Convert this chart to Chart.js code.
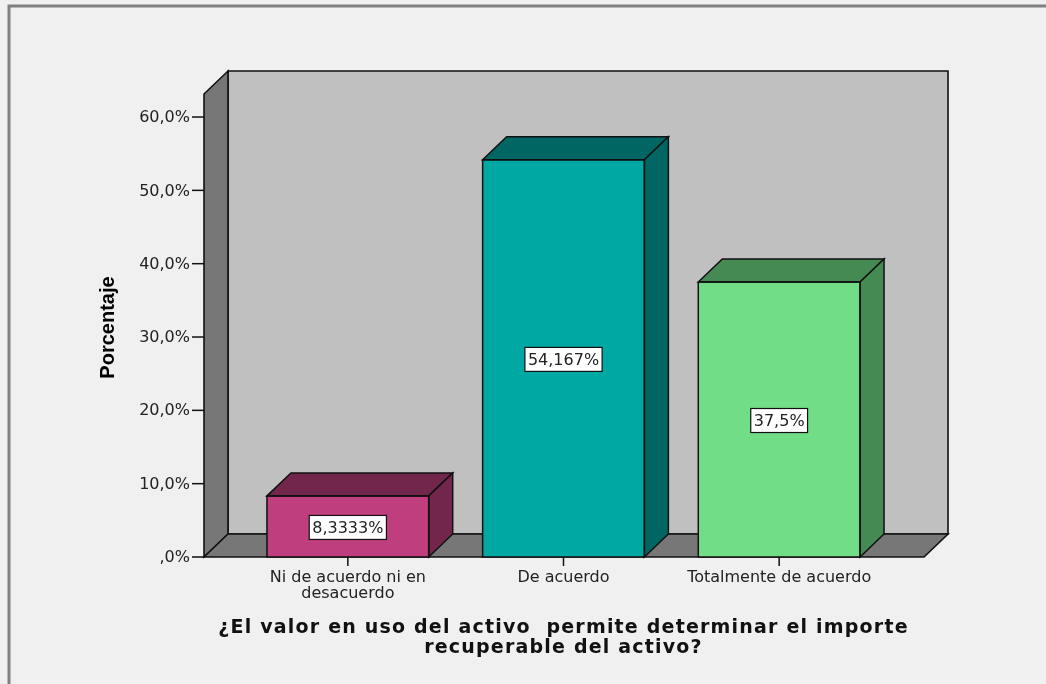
<!DOCTYPE html>
<html>
<head>
<meta charset="utf-8">
<script src="https://cdn.jsdelivr.net/npm/chart.js@4.4.1/dist/chart.umd.min.js"></script>
<style>
  html, body { margin: 0; padding: 0; background: #f0f0f0; }
  canvas { display: block; }
</style>
</head>
<body>
<canvas id="chart" width="1046" height="684"></canvas>
<script>
// data
const categories = [['Ni de acuerdo ni en', 'desacuerdo'], ['De acuerdo'], ['Totalmente de acuerdo']];
const percentages = [8.3333, 54.167, 37.5];
const valueLabels = ['8,3333%', '54,167%', '37,5%'];
const tickValues = [0, 10, 20, 30, 40, 50, 60];
const tickLabels = [',0%', '10,0%', '20,0%', '30,0%', '40,0%', '50,0%', '60,0%'];
const frontColors = ['#bf3f7e', '#00a8a3', '#72dd87'];
const sideColors = ['#73264b', '#006663', '#458a52'];

const yTitle = 'Porcentaje';
const xTitle = ['¿El valor en uso del activo  permite determinar el importe', 'recuperable del activo?'];

const DX = 24, DY = 23;

const box3d = {
    id: 'box3d',
    beforeDraw(chart) {
        const ctx = chart.ctx;
        ctx.save();
        ctx.fillStyle = '#f0f0f0';
        ctx.fillRect(0, 0, chart.width, chart.height);
        // outer frame (only top and left visible)
        ctx.strokeStyle = '#808080';
        ctx.lineWidth = 3;
        ctx.beginPath();
        ctx.moveTo(chart.width, 6);
        ctx.lineTo(9, 6);
        ctx.lineTo(9, chart.height);
        ctx.stroke();
        ctx.restore();
    },
    beforeDatasetsDraw(chart) {
        const ctx = chart.ctx;
        const area = chart.chartArea;
        const y = chart.scales.y;
        const x = chart.scales.x;
        const left = area.left - 36, right = area.right + 37;
        const bottom = y.getPixelForValue(0), top = y.getPixelForValue(y.max);

        ctx.save();
        ctx.lineJoin = 'miter';
        ctx.strokeStyle = '#111';
        ctx.lineWidth = 1.6;

        const poly = (pts, fill) => {
            ctx.beginPath();
            ctx.moveTo(pts[0][0], pts[0][1]);
            pts.slice(1).forEach(p => ctx.lineTo(p[0], p[1]));
            ctx.closePath();
            ctx.fillStyle = fill;
            ctx.fill();
            ctx.stroke();
        };

        // back wall
        poly([[left + DX, top - DY], [right + DX, top - DY], [right + DX, bottom - DY], [left + DX, bottom - DY]], '#c0c0c0');
        // left wall
        poly([[left, top], [left + DX, top - DY], [left + DX, bottom - DY], [left, bottom]], '#777777');
        // floor
        poly([[left, bottom], [left + DX, bottom - DY], [right + DX, bottom - DY], [right, bottom]], '#777777');

        // y ticks
        ctx.fillStyle = '#222';
        ctx.font = '16px "DejaVu Sans"';
        ctx.textAlign = 'right';
        ctx.textBaseline = 'middle';
        ctx.lineWidth = 1.5;
        tickValues.forEach((v, i) => {
            const py = y.getPixelForValue(v);
            ctx.beginPath();
            ctx.moveTo(left - 12, py);
            ctx.lineTo(left, py);
            ctx.stroke();
            ctx.fillText(tickLabels[i], left - 14, py + 1);
        });

        // x ticks and labels
        ctx.textAlign = 'center';
        categories.forEach((lines, i) => {
            const px = x.getPixelForValue(i);
            ctx.beginPath();
            ctx.moveTo(px, bottom);
            ctx.lineTo(px, bottom + 9);
            ctx.stroke();
            lines.forEach((t, j) => ctx.fillText(t, px, bottom + 21 + j * 16));
        });

        // y title
        ctx.save();
        ctx.translate(108, (top + bottom) / 2 + 2);
        ctx.rotate(-Math.PI / 2);
        ctx.font = 'bold 20px "Liberation Sans"';
        ctx.fillStyle = '#000';
        ctx.fillText(yTitle, 0, 0);
        ctx.restore();

        // x title
        ctx.font = 'bold 19px "DejaVu Sans"';
        ctx.fillStyle = '#111';
        ctx.letterSpacing = '1.2px';
        const cx = (area.left + area.right) / 2;
        xTitle.forEach((t, j) => ctx.fillText(t, cx, 628 + j * 20));
        ctx.restore();
    },
    afterDatasetsDraw(chart) {
        const ctx = chart.ctx;
        const meta = chart.getDatasetMeta(0);
        ctx.save();
        ctx.strokeStyle = '#111';
        ctx.lineWidth = 1.5;
        ctx.lineJoin = 'miter';
        meta.data.forEach((bar, i) => {
            const l = bar.x - bar.width / 2, r = bar.x + bar.width / 2;
            const t = bar.y, b = bar.base;
            ctx.fillStyle = sideColors[i];
            // top face
            ctx.beginPath();
            ctx.moveTo(l, t);
            ctx.lineTo(l + DX, t - DY);
            ctx.lineTo(r + DX, t - DY);
            ctx.lineTo(r, t);
            ctx.closePath();
            ctx.fill();
            ctx.stroke();
            // right face
            ctx.beginPath();
            ctx.moveTo(r, t);
            ctx.lineTo(r + DX, t - DY);
            ctx.lineTo(r + DX, b - DY);
            ctx.lineTo(r, b);
            ctx.closePath();
            ctx.fill();
            ctx.stroke();
            // front outline
            ctx.strokeRect(l, t, r - l, b - t);

            // value label box
            ctx.font = '16px "DejaVu Sans"';
            const w = ctx.measureText(valueLabels[i]).width + 6;
            const cy = (t + b) / 2 + 1;
            ctx.fillStyle = '#fff';
            ctx.fillRect(bar.x - w / 2, cy - 12, w, 24);
            ctx.lineWidth = 1.2;
            ctx.strokeRect(bar.x - w / 2, cy - 12, w, 24);
            ctx.lineWidth = 1.5;
            ctx.fillStyle = '#222';
            ctx.textAlign = 'center';
            ctx.textBaseline = 'middle';
            ctx.fillText(valueLabels[i], bar.x, cy + 1);
        });
        ctx.restore();
    }
};

new Chart(document.getElementById('chart'), {
    type: 'bar',
    data: {
        labels: categories,
        datasets: [{
            data: percentages,
            backgroundColor: frontColors,
            borderWidth: 0,
            barPercentage: 0.75,
            categoryPercentage: 1
        }]
    },
    options: {
        responsive: false,
        animation: false,
        layout: { padding: { left: 240, right: 159, top: 94, bottom: 127 } },
        plugins: { legend: { display: false }, tooltip: { enabled: false } },
        scales: {
            x: { display: false, offset: true },
            y: { display: false, min: 0, max: 63.14 }
        }
    },
    plugins: [box3d]
});
</script>
</body>
</html>
